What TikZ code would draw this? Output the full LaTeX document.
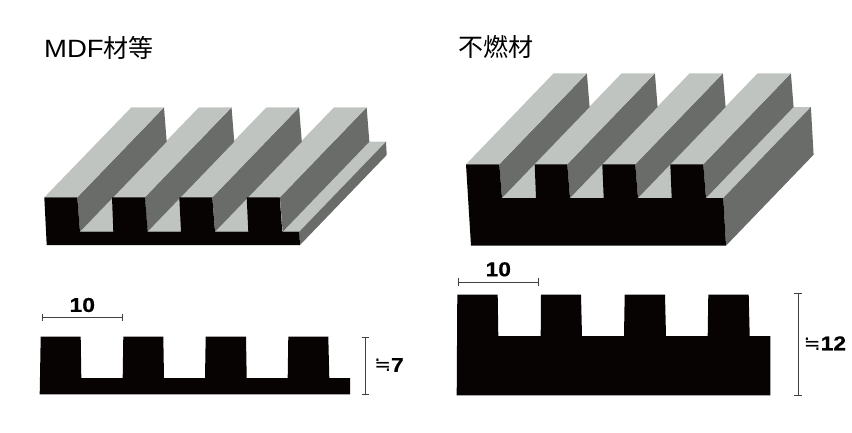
\documentclass[tikz,border=0pt]{standalone}
\usepackage{fontspec}
\setmainfont{Noto Sans CJK JP}
\newfontfamily\wideletters[FakeStretch=1.1]{Liberation Sans}
\newfontfamily\dimfont[BoldFeatures={FakeStretch=1.14,FakeBold=0.6}]{Liberation Sans}
\newfontfamily\nearlyfont{DejaVu Sans}
\usetikzlibrary{calc,positioning}
\definecolor{topgray}{HTML}{C0C4C0}
\definecolor{sidegray}{HTML}{6A6C6A}
\definecolor{cutblack}{HTML}{070303}
\tikzset{
  topface/.style={fill=topgray},
  sideface/.style={fill=sidegray},
  cutface/.style={fill=cutblack},
  dimline/.style={draw=black!75,line width=0.8pt,|-|},
  title/.style={font=\fontsize{25}{25}\selectfont,inner sep=0pt},
  dimlabel/.style={font=\fontsize{20}{20}\selectfont\dimfont\bfseries,inner sep=0pt}
}
\begin{document}
\begin{tikzpicture}[x=1pt,y=-1pt]
\useasboundingbox (0,0) rectangle (852,432);
\node[title,anchor=base west] (titleleft) at (44,57.5) {{\wideletters MDF}材等};
\node[title,anchor=base west] (titleright) at (458,56) {不燃材};

% left block
\begin{scope}
\def\dx{86.7}
\def\dy{-90}
\fill[topface] (282.3,231.7) -- (299.3,231.7) -- ++(\dx,\dy) -- (369,141.7) -- cycle;
\fill[sideface] (299.3,231.7) -- (300,245) -- ++(\dx,\dy) -- (386,141.7) -- cycle;
\foreach \n in {2,1,0} {
\fill[topface,shift={({67.55*\n},0)}] (80,231.7) -- (113.4,231.7) -- ++(\dx,\dy) -- (166.7,141.7) -- cycle;
}
\foreach \n in {3,2,1,0} {
\begin{scope}[shift={({67.55*\n},0)}]
\fill[sideface] (77.3,197.3) -- ++(\dx,\dy) -- (166.7,141.7) -- (80,231.7) -- cycle;
\fill[topface] (44.3,197.3) -- (77.3,197.3) -- ++(\dx,\dy) -- (131.4,107.3) -- cycle;
\end{scope}
}
\fill[cutface] (44.3,197.3) -- (77.3,197.3) -- (80,231.7) -- (113.3,231.7) -- (112,197.3)
  -- (145,197.3) -- (147.7,231.7) -- (181,231.7) -- (179.3,197.3) -- (212.3,197.3)
  -- (215,231.7) -- (248.3,231.7) -- (246.7,197.3) -- (279.7,197.3) -- (282.3,231.7)
  -- (299.3,231.7) -- (300,245) -- (46.7,245) -- cycle;
\end{scope}

% right block
\begin{scope}
\def\dx{87.6}
\def\dy{-91}
\fill[topface] (706,198) -- (723.3,198) -- ++(\dx,\dy) -- (793.6,107) -- cycle;
\fill[sideface] (723.3,198) -- (726,245.7) -- ++(\dx,\dy) -- (810.9,107) -- cycle;
\foreach \n in {2,1,0} {
\fill[topface,shift={({68*\n},0)}] (502,198) -- (536,198) -- ++(\dx,\dy) -- (589.6,107) -- cycle;
}
\foreach \n in {3,2,1,0} {
\begin{scope}[shift={({68*\n},0)}]
\fill[sideface] (499.3,164.3) -- ++(\dx,\dy) -- (589.6,107) -- (502,198) -- cycle;
\fill[topface] (466,164.3) -- (499.3,164.3) -- ++(\dx,\dy) -- (553.6,73.3) -- cycle;
\end{scope}
}
\fill[cutface] (466,164.3) -- (499.3,164.3) -- (502,198) -- (536,198) -- (534.7,164.3)
  -- (567.3,164.3) -- (570,198) -- (603.7,198) -- (602.3,164.3) -- (635.3,164.3)
  -- (638,198) -- (671.7,198) -- (670.3,164.3) -- (703.3,164.3) -- (706,198)
  -- (723.3,198) -- (726,245.7) -- (471,245.7) -- cycle;
\end{scope}

% left section
\fill[cutface] (40.7,336.7) -- (80.7,336.7) -- (81.3,378) -- (122.7,378) -- (123.3,336.7)
  -- (163.3,336.7) -- (164,378) -- (205,378) -- (205.7,336.7) -- (246,336.7)
  -- (246.7,378) -- (287.7,378) -- (288.3,336.7) -- (328.3,336.7) -- (329.3,378)
  -- (350,378) -- (350,394.3) -- (39.7,394.3) -- cycle;
\coordinate (wla) at (41.7,317.7);
\coordinate (wlb) at (122.3,317.7);
\coordinate (hla) at (365.7,336.7);
\coordinate (hlb) at (365.7,394.3);
\draw[dimline] (wla) -- (wlb);
\draw[dimline] (hla) -- (hlb);
\node[dimlabel] (widthleft) at (82.3,305) {10};
\node[dimlabel] (heightleft) at (389,365) {{\nearlyfont\mdseries ≒}7};

% right section
\fill[cutface] (457.3,294.7) -- (497.7,294.7) -- (498.3,336) -- (540.7,336) -- (541,294.7)
  -- (581,294.7) -- (582,336) -- (624,336) -- (624.7,294.7) -- (665,294.7)
  -- (666,336) -- (707.7,336) -- (708.3,294.7) -- (748.7,294.7) -- (749.7,336)
  -- (770.3,336) -- (770.3,395.3) -- (456.7,395.3) -- cycle;
\coordinate (wra) at (457.7,282);
\coordinate (wrb) at (538.7,282);
\coordinate (hra) at (798,293.3);
\coordinate (hrb) at (798,396);
\draw[dimline] (wra) -- (wrb);
\draw[dimline] (hra) -- (hrb);
\node[dimlabel] (widthright) at (498.3,269.3) {10};
\node[dimlabel] (heightright) at (825,343.3) {{\nearlyfont\mdseries ≒}12};
\end{tikzpicture}
\end{document}
